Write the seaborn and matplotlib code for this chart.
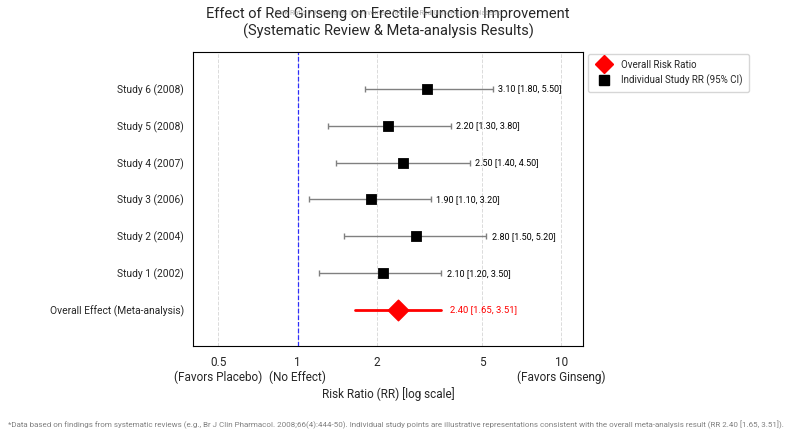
import numpy as np
import pandas as pd
import matplotlib
matplotlib.use("Agg")
import matplotlib.pyplot as plt
import seaborn as sns
from matplotlib.lines import Line2D

# study level risk ratios
studies = ["Study 6 (2008)", "Study 5 (2008)", "Study 4 (2007)",
           "Study 3 (2006)", "Study 2 (2004)", "Study 1 (2002)"]
rr = [3.10, 2.20, 2.50, 1.90, 2.80, 2.10]
ci_low = [1.80, 1.30, 1.40, 1.10, 1.50, 1.20]
ci_high = [5.50, 3.80, 4.50, 3.20, 5.20, 3.50]

overall_label = "Overall Effect (Meta-analysis)"
overall_rr = 2.40
overall_low = 1.65
overall_high = 3.51

x_ticks = [0.5, 1, 2, 5, 10]
x_tick_labels = ["0.5\n(Favors Placebo)", "1\n(No Effect)", "2", "5", "10\n(Favors Ginseng)"]

sns.set_style("white")
plt.rcParams["font.family"] = ["Roboto", "DejaVu Sans"]

df = pd.DataFrame({"study": studies, "rr": rr, "lo": ci_low, "hi": ci_high})
df["pos"] = np.arange(len(df))
overall_pos = len(df)

fig, ax = plt.subplots(figsize=(8, 4.37), dpi=100)
fig.subplots_adjust(left=0.241, right=0.729, top=0.881, bottom=0.208)

# individual studies
ax.errorbar(df["rr"], df["pos"], xerr=[df["rr"] - df["lo"], df["hi"] - df["rr"]],
            fmt="none", ecolor="gray", elinewidth=1, capsize=2.5, capthick=1, zorder=2)
sns.scatterplot(data=df, x="rr", y="pos", marker="s", color="black", s=55,
                edgecolor="black", ax=ax, zorder=3, legend=False)
for _, r in df.iterrows():
    ax.annotate(f"{r['rr']:.2f} [{r['lo']:.2f}, {r['hi']:.2f}]", (r["hi"], r["pos"]),
                xytext=(4, 0), textcoords="offset points", va="center", ha="left",
                fontsize=6.5, color="black")

# overall effect
ax.plot([overall_low, overall_high], [overall_pos, overall_pos], color="red", lw=2, zorder=2)
ax.scatter([overall_rr], [overall_pos], marker="D", color="red", s=110, zorder=3)
ax.annotate(f"{overall_rr:.2f} [{overall_low:.2f}, {overall_high:.2f}]", (overall_high, overall_pos),
            xytext=(6, 0), textcoords="offset points", va="center", ha="left",
            fontsize=6.8, color="red")

ax.axvline(1, color="blue", ls="--", lw=0.9, alpha=0.8, zorder=1)

ax.set_xscale("log")
ax.set_xlim(0.4, 12.1)
ax.set_xticks(x_ticks)
ax.set_xticklabels(x_tick_labels, fontsize=8.5)
ax.tick_params(axis="x", which="major", length=3.5, width=0.8, color="black")
ax.tick_params(axis="x", which="minor", length=2, width=0.6, color="black")
ax.xaxis.set_minor_formatter(matplotlib.ticker.NullFormatter())
ax.grid(True, axis="x", which="major", ls="--", color="lightgray", lw=0.7, alpha=0.8)

ax.set_yticks(list(df["pos"]) + [overall_pos])
ax.set_yticklabels(studies + [overall_label], fontsize=7.4)
ax.tick_params(axis="y", length=3, width=0.8, color="black")
ax.set_ylim(overall_pos + 0.98, -1)
ax.set_ylabel("")
ax.set_xlabel("Risk Ratio (RR) [log scale]", fontsize=8.5, labelpad=2)

for sp in ax.spines.values():
    sp.set_color("black")
    sp.set_linewidth(0.8)

ax.set_title("Effect of Red Ginseng on Erectile Function Improvement\n"
             "(Systematic Review & Meta-analysis Results)", fontsize=10.5, pad=12)
fig.text(0.485, 0.97, "Risk Ratio > 1 indicates improvement favoring Red Ginseng over placebo",
         fontsize=5, color="gray", alpha=0.6, ha="center", va="center")

handles = [Line2D([], [], marker="D", color="red", ls="none", markersize=9),
           Line2D([], [], marker="s", color="black", ls="none", markersize=7)]
ax.legend(handles, ["Overall Risk Ratio", "Individual Study RR (95% CI)"],
          loc="upper left", bbox_to_anchor=(1.0, 1.01), fontsize=7, frameon=True,
          handletextpad=0.8, borderpad=0.6)

fig.text(0.01, 0.027,
         "*Data based on findings from systematic reviews (e.g., Br J Clin Pharmacol. 2008;66(4):444-50). "
         "Individual study points are illustrative representations consistent with the overall "
         "meta-analysis result (RR 2.40 [1.65, 3.51]).",
         fontsize=5.8, color="gray", ha="left", va="center")

fig.savefig("out.png", dpi=100)
